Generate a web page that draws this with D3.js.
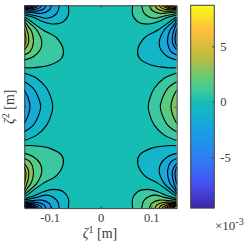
<!DOCTYPE html>
<html>
<head>
<meta charset="utf-8">
<script src="https://cdn.jsdelivr.net/npm/d3@7"></script>
<style>
    body { margin: 0; background: #fff; }
    text { font-family: "Liberation Serif", serif; fill: #3a3a3a; }
    .axis path, .axis line { stroke: #404040; }
    .axis text { font-family: "Liberation Serif", serif; font-size: 12.5px; fill: #3a3a3a; }
</style>
</head>
<body>
<script>
// Contour levels in units of 1e-3, one list per lobe of the top left quarter
var cornerLevels = [-0.9, -1.8, -2.7, -3.6, -4.5, -5.4, -6.3, -7.2, -8.1, -9];
var sideLevels = [0.9, 1.8, 2.7, 3.6, 4.5];
var middleLevels = [-0.9, -1.8, -2.7];

// Corner lobe contours, [zeta1, zeta2] in metres, from the top edge to the left edge
var cornerLines = [
    [[-0.0634,0.2],[-0.0634,0.1809],[-0.0732,0.1676],[-0.0929,0.1631],[-0.1126,0.1676],[-0.1323,0.1763],[-0.15,0.1809]],
    [[-0.0811,0.2],[-0.0862,0.1842],[-0.1059,0.1744],[-0.1256,0.1789],[-0.15,0.1838]],
    [[-0.0961,0.2],[-0.1008,0.1907],[-0.1157,0.1842],[-0.1323,0.1852],[-0.15,0.1868]],
    [[-0.1073,0.2],[-0.1112,0.1935],[-0.123,0.1888],[-0.1388,0.1884],[-0.15,0.1892]],
    [[-0.1152,0.2],[-0.1191,0.1955],[-0.1299,0.1915],[-0.15,0.1911]],
    [[-0.1211,0.2],[-0.125,0.197],[-0.1348,0.1931],[-0.15,0.1927]],
    [[-0.126,0.2],[-0.1299,0.1976],[-0.1398,0.1941],[-0.15,0.1939]],
    [[-0.1303,0.2],[-0.1343,0.198],[-0.15,0.1951]],
    [[-0.1348,0.2],[-0.1388,0.1976],[-0.15,0.1962]],
    [[-0.1398,0.2],[-0.1447,0.1986],[-0.15,0.1974]]
];

// Side lobe contours, both ends on the left edge
var sideLines = [
    [[-0.15,0.1769],[-0.1453,0.1744],[-0.1132,0.1513],[-0.0862,0.1355],[-0.0732,0.1118],[-0.0764,0.0961],[-0.0994,0.0822],[-0.1329,0.0769],[-0.15,0.0769]],
    [[-0.15,0.174],[-0.1453,0.1696],[-0.1256,0.1513],[-0.1157,0.1282],[-0.1191,0.1118],[-0.1323,0.0986],[-0.15,0.0921]],
    [[-0.15,0.171],[-0.1467,0.1645],[-0.1354,0.1479],[-0.1323,0.125],[-0.1388,0.1085],[-0.15,0.102]],
    [[-0.15,0.1651],[-0.1421,0.1414],[-0.1421,0.125],[-0.15,0.1118]],
    [[-0.15,0.1533],[-0.1467,0.1316],[-0.15,0.1183]]
];

// Middle lobe contours, upper half only, from the left edge to zeta2 = 0
var middleLines = [
    [[-0.15,0.0665],[-0.1256,0.056],[-0.1059,0.0363],[-0.0961,0.0132],[-0.0941,0]],
    [[-0.15,0.0493],[-0.1323,0.0363],[-0.1205,0.0132],[-0.1177,0]],
    [[-0.15,0.0329],[-0.1421,0.0166],[-0.1388,0]]
];

var xTicks = [-0.1, 0, 0.1];
var yTicks = [0];
var barTicks = [-5, 0, 5];
var barRange = [-9.6, 8.7];

// Parula colour stops, position along the colour bar and colour
var parulaPos = [0, 0.125, 0.25, 0.375, 0.475, 0.525, 0.575, 0.625, 0.75, 0.875, 1];
var parulaCol = ["#3e26a8", "#4752f4", "#2d80f2", "#1a9ee4", "#12b6c8", "#15bdb2", "#3cc8a0", "#58cb80", "#c0bc3c", "#fbbf3c", "#f9fb15"];

window.onload = function(){

    var svg = d3.select("body")
        .append("svg")
        .attr("width", 249)
        .attr("height", 249);

    // Scales
    var x = d3.scaleLinear().domain([-0.15, 0.15]).range([24.3, 176.7]);
    var y = d3.scaleLinear().domain([-0.2, 0.2]).range([208.1, 5.3]);
    var barY = d3.scaleLinear().domain(barRange).range([208.1, 5.3]);
    var color = d3.scaleLinear().domain(parulaPos).range(parulaCol);

    function levelColor(v){
        return color((v - barRange[0]) / (barRange[1] - barRange[0]));
    }

    var line = d3.line()
        .x(function(d){ return x(d[0]); })
        .y(function(d){ return y(d[1]); })
        .curve(d3.curveCatmullRom);

    // Copy a contour into another quarter
    function flip(pts, sx, sy){
        return pts.map(function(p){ return [p[0] * sx, p[1] * sy]; });
    }

    var defs = svg.append("defs");
    defs.append("clipPath").attr("id", "plotClip")
        .append("rect")
        .attr("x", x(-0.15)).attr("y", y(0.2))
        .attr("width", x(0.15) - x(-0.15)).attr("height", y(-0.2) - y(0.2));

    var grad = defs.append("linearGradient").attr("id", "barGrad")
        .attr("x1", 0).attr("y1", 1).attr("x2", 0).attr("y2", 0);
    grad.selectAll("stop")
        .data(parulaPos)
        .enter()
        .append("stop")
        .attr("offset", function(d){ return d; })
        .attr("stop-color", function(d, i){ return parulaCol[i]; });

    // Collect all the contours of the four quarters, outer ones first
    var shapes = [];
    [[1, 1], [1, -1], [-1, 1], [-1, -1]].forEach(function(q){
        var sx = q[0], sy = q[1];
        cornerLines.forEach(function(pts, i){
            var c = flip(pts, sx, sy);
            shapes.push({
                level: cornerLevels[i] * sx,
                line: line(c),
                fill: line(c) + "L" + x(-0.15 * sx) + "," + y(0.2 * sy) + "Z"
            });
        });
        sideLines.forEach(function(pts, i){
            var c = flip(pts, sx, sy);
            shapes.push({ level: sideLevels[i] * sx, line: line(c), fill: line(c) + "Z" });
        });
    });
    [1, -1].forEach(function(sx){
        middleLines.forEach(function(pts, i){
            var half = flip(pts, sx, 1);
            var c = half.concat(flip(pts, sx, -1).reverse().slice(1));
            shapes.push({ level: middleLevels[i] * sx, line: line(c), fill: line(c) + "Z" });
        });
    });

    var plot = svg.append("g").attr("clip-path", "url(#plotClip)");

    // Background band
    plot.append("rect")
        .attr("x", x(-0.15)).attr("y", y(0.2))
        .attr("width", x(0.15) - x(-0.15)).attr("height", y(-0.2) - y(0.2))
        .style("fill", levelColor(0));

    plot.selectAll(".band")
        .data(shapes)
        .enter()
        .append("path")
        .attr("class", "band")
        .attr("d", function(d){ return d.fill; })
        .style("fill", function(d){ return levelColor(d.level); });

    plot.selectAll(".contour")
        .data(shapes)
        .enter()
        .append("path")
        .attr("class", "contour")
        .attr("d", function(d){ return d.line; })
        .style("fill", "none")
        .style("stroke", "#000")
        .style("stroke-width", 1.1);

    // Axes, ticks point inwards, labels use a plain hyphen
    var plainFmt = function(d){ return String(d); };
    svg.append("g").attr("class", "axis")
        .attr("transform", "translate(0," + y(-0.2) + ")")
        .call(d3.axisBottom(x).tickValues(xTicks).tickFormat(plainFmt).tickSizeInner(-2).tickSizeOuter(0).tickPadding(5));
    svg.append("g").attr("class", "axis")
        .attr("transform", "translate(0," + y(0.2) + ")")
        .call(d3.axisTop(x).tickValues(xTicks).tickFormat("").tickSizeInner(-2).tickSizeOuter(0));
    svg.append("g").attr("class", "axis")
        .attr("transform", "translate(" + x(-0.15) + ",0)")
        .call(d3.axisLeft(y).tickValues(yTicks).tickFormat("").tickSizeInner(-2).tickSizeOuter(0));
    svg.append("g").attr("class", "axis")
        .attr("transform", "translate(" + x(0.15) + ",0)")
        .call(d3.axisRight(y).tickValues(yTicks).tickFormat("").tickSizeInner(-2).tickSizeOuter(0));

    // Axis titles
    var xTitle = svg.append("text")
        .attr("x", 100).attr("y", 238)
        .attr("text-anchor", "middle")
        .style("font-size", "14px");
    xTitle.append("tspan").style("font-style", "italic").text("ζ");
    xTitle.append("tspan").attr("dy", -5).style("font-size", "10px").text("1");
    xTitle.append("tspan").attr("dy", 5).text(" [m]");

    var yTitle = svg.append("text")
        .attr("transform", "translate(14,106.7) rotate(-90)")
        .attr("text-anchor", "middle")
        .style("font-size", "14px");
    yTitle.append("tspan").style("font-style", "italic").text("ζ");
    yTitle.append("tspan").attr("dy", -5).style("font-size", "10px").text("2");
    yTitle.append("tspan").attr("dy", 5).text(" [m]");

    // Colour bar
    svg.append("rect")
        .attr("x", 190.7).attr("y", barY(barRange[1]))
        .attr("width", 23.6).attr("height", barY(barRange[0]) - barY(barRange[1]))
        .style("fill", "url(#barGrad)")
        .style("stroke", "#404040")
        .style("stroke-width", 1);

    svg.append("g").attr("class", "axis")
        .attr("transform", "translate(214.3,0)")
        .call(d3.axisRight(barY).tickValues(barTicks).tickFormat(plainFmt).tickSizeInner(-2).tickSizeOuter(0).tickPadding(6))
        .select(".domain").remove();

    var expo = svg.append("text")
        .attr("x", 215).attr("y", 230)
        .style("font-size", "13px");
    expo.append("tspan").text("×10");
    expo.append("tspan").attr("dy", -5).style("font-size", "10px").text("-3");
};
</script>
</body>
</html>
